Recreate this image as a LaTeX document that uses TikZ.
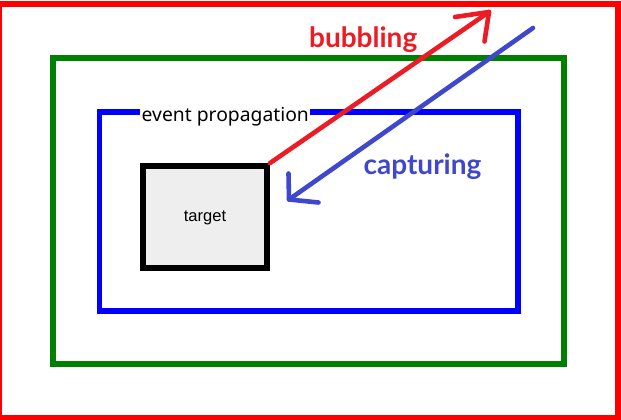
\documentclass[tikz,border=0pt]{standalone}
\usepackage{fontspec}
\setmainfont{Liberation Sans}
\newfontfamily\evfont{Noto Sans}
\newfontfamily\lblfont{Lato}
\definecolor{pred}{RGB}{255,0,0}
\definecolor{pgreen}{RGB}{0,128,0}
\definecolor{pblue}{RGB}{0,0,255}
\definecolor{hred}{RGB}{237,28,36}
\definecolor{hblue}{RGB}{63,72,204}
\definecolor{tgray}{RGB}{238,238,238}
\tikzset{
  framebox/.style={line width=5.7pt},
  hand/.style={line width=4.6pt, line cap=round, line join=round},
}
\begin{document}
\begin{tikzpicture}[x=1pt,y=-1pt]
\useasboundingbox (0,0) rectangle (621,420);
\fill[white] (0,0) rectangle (621,420);
\draw[framebox,pred] (-0.7,4) rectangle (618,418);
\draw[framebox,pgreen] (52.7,58) rectangle (564,364);
\draw[framebox,pblue] (99.5,112) rectangle (518,311);
\node[fill=white, inner sep=1.5pt, anchor=base west, font=\evfont\fontsize{19.3}{22}\selectfont] (ev) at (140,121.5) {event propagation};
\node[draw=black, line width=5.6pt, fill=tgray, minimum width=124pt, minimum height=102pt, inner sep=0pt] (target) at (205,217) {};
\node[inner sep=0pt, anchor=base, font=\fontsize{16.5}{19}\selectfont] (tlabel) at (205,221.5) {target};
% bubbling arrow
\coordinate (rtip) at (489,12);
\coordinate (rl) at (455,17);
\coordinate (rr) at (484.5,41.5);
\draw[hand,hred] (target.north east) -- (rtip);
\draw[hand,hred] (rl) -- (rtip) -- (rr);
% capturing arrow
\coordinate (bstart) at (533,28);
\coordinate (btip) at (289,199.5);
\coordinate (bu) at (288.5,173.5);
\coordinate (br) at (318.5,202.5);
\draw[hand,hblue] (bstart) -- (btip);
\draw[hand,hblue] (bu) -- (btip) -- (br);
\node[hred, font=\lblfont\bfseries\fontsize{28}{32}\selectfont, inner sep=0pt, anchor=base] (bub) at (363.2,47.3) {bubbling};
\node[hblue, font=\lblfont\bfseries\fontsize{28}{32}\selectfont, inner sep=0pt, anchor=base] (cap) at (422.5,174.3) {capturing};
\end{tikzpicture}
\end{document}
